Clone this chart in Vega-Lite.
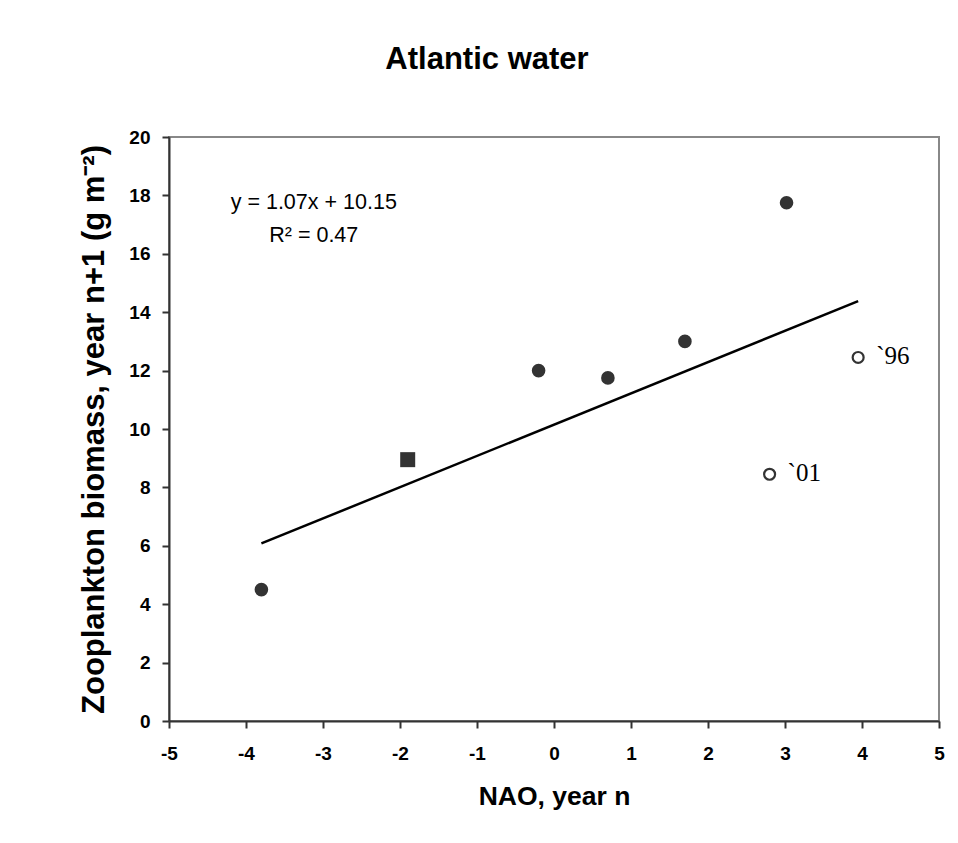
{
  "$schema": "https://vega.github.io/schema/vega-lite/v6.json",
  "width": 770,
  "height": 584,
  "autosize": {"type": "none"},
  "padding": {"left": 169, "top": 137, "right": 19, "bottom": 122},
  "background": "white",
  "title": {
    "text": "Atlantic water",
    "font": "Liberation Sans",
    "fontSize": 31,
    "fontWeight": "bold",
    "color": "black",
    "anchor": "middle",
    "dx": -67,
    "offset": 52
  },
  "datasets": {
    "pts": [
      {"nao": -3.8, "bio": 4.5, "kind": "filled", "label": ""},
      {"nao": -1.9, "bio": 8.95, "kind": "square", "label": ""},
      {"nao": -0.2, "bio": 12.0, "kind": "filled", "label": ""},
      {"nao": 0.7, "bio": 11.75, "kind": "filled", "label": ""},
      {"nao": 1.7, "bio": 13.0, "kind": "filled", "label": ""},
      {"nao": 3.02, "bio": 17.75, "kind": "filled", "label": ""},
      {"nao": 3.95, "bio": 12.45, "kind": "open", "label": "`96"},
      {"nao": 2.8, "bio": 8.45, "kind": "open", "label": "`01"}
    ],
    "fit": [
      {"nao": -3.8, "bio": 6.08},
      {"nao": 3.95, "bio": 14.38}
    ],
    "eq": [
      {"nao": -3.12, "bio": 17.75, "text": "y = 1.07x + 10.15"},
      {"nao": -3.12, "bio": 16.6, "text": "R² = 0.47"}
    ]
  },
  "encoding": {
    "x": {
      "field": "nao",
      "type": "quantitative",
      "scale": {"domain": [-5, 5], "nice": false, "zero": false},
      "axis": {
        "title": "NAO, year n",
        "values": [-5, -4, -3, -2, -1, 0, 1, 2, 3, 4, 5],
        "labelExpr": "toString(datum.value)",
        "grid": false,
        "labelFont": "Liberation Sans",
        "labelFontSize": 19,
        "labelFontWeight": "bold",
        "labelColor": "black",
        "labelPadding": 16,
        "tickSize": 7,
        "tickColor": "#333",
        "tickWidth": 2,
        "domainColor": "#333",
        "domainWidth": 2,
        "titleFont": "Liberation Sans",
        "titleFontSize": 26.5,
        "titleFontWeight": "bold",
        "titleColor": "black",
        "titlePadding": 20,
        "labelFlush": false
      }
    },
    "y": {
      "field": "bio",
      "type": "quantitative",
      "scale": {"domain": [0, 20], "nice": false},
      "axis": {
        "title": "Zooplankton biomass, year n+1 (g m⁻²)",
        "values": [0, 2, 4, 6, 8, 10, 12, 14, 16, 18, 20],
        "grid": false,
        "labelFont": "Liberation Sans",
        "labelFontSize": 19,
        "labelFontWeight": "bold",
        "labelColor": "black",
        "labelPadding": 12,
        "tickSize": 7,
        "tickColor": "#333",
        "tickWidth": 2,
        "domainColor": "#333",
        "domainWidth": 2,
        "titleFont": "Liberation Sans",
        "titleFontSize": 31,
        "titleFontWeight": "bold",
        "titleColor": "black",
        "titlePadding": 18,
        "labelFlush": false
      }
    }
  },
  "layer": [
    {
      "data": {"name": "fit"},
      "mark": {"type": "line", "color": "black", "strokeWidth": 2.5},
      "encoding": {}
    },
    {
      "data": {"name": "pts"},
      "transform": [{"filter": "datum.kind == 'filled'"}],
      "mark": {"type": "point", "shape": "circle", "filled": true, "color": "#333", "size": 185, "opacity": 1}
    },
    {
      "data": {"name": "pts"},
      "transform": [{"filter": "datum.kind == 'square'"}],
      "mark": {"type": "point", "shape": "square", "filled": true, "color": "#333", "size": 225, "opacity": 1}
    },
    {
      "data": {"name": "pts"},
      "transform": [{"filter": "datum.kind == 'open'"}],
      "mark": {"type": "point", "shape": "circle", "filled": false, "fill": "white", "stroke": "#333", "strokeWidth": 2.2, "size": 120, "opacity": 1}
    },
    {
      "data": {"name": "pts"},
      "transform": [{"filter": "datum.kind == 'open'"}],
      "mark": {"type": "text", "align": "left", "baseline": "middle", "dx": 18, "dy": -1, "font": "Liberation Serif", "fontSize": 25, "color": "black"},
      "encoding": {"text": {"field": "label"}}
    },
    {
      "data": {"name": "eq"},
      "mark": {"type": "text", "align": "center", "baseline": "middle", "font": "Liberation Sans", "fontSize": 21.5, "color": "black"},
      "encoding": {"text": {"field": "text"}}
    }
  ],
  "config": {
    "view": {"stroke": "#888", "strokeWidth": 2}
  }
}
